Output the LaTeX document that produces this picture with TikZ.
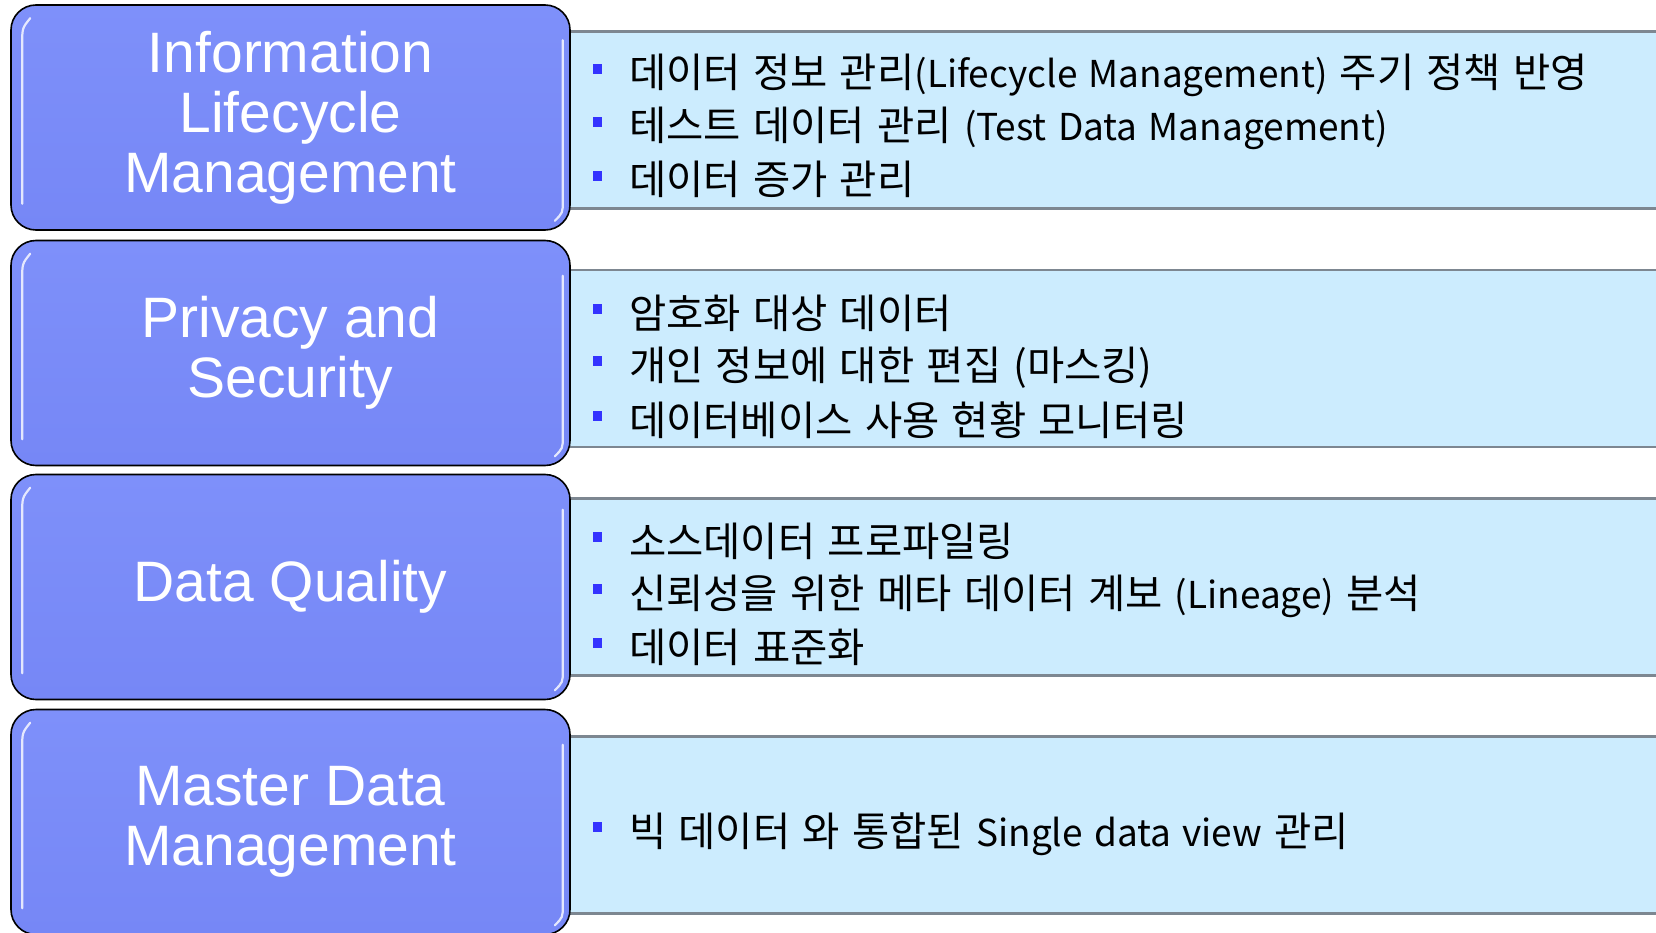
\documentclass[tikz,border=0pt]{standalone}
\usepackage{fontspec}
\setmainfont{Liberation Sans}
\newfontfamily\krfont[WordSpace=1.35]{Noto Sans CJK KR}
\usetikzlibrary{positioning}
\definecolor{boxblue}{RGB}{118,135,246}
\definecolor{boxtop}{RGB}{126,144,250}
\definecolor{panelblue}{RGB}{204,236,254}
\definecolor{rulegray}{RGB}{125,135,145}
\definecolor{bulletblue}{RGB}{51,51,255}
\newcommand{\sqbullet}{\textcolor{bulletblue}{\rule[14pt]{9pt}{10pt}}\hspace{27pt}}
\newcommand{\engtext}[1]{{\fontsize{37}{48}\selectfont #1}}
\tikzset {
    style A/.style={
        top color=boxtop,
        bottom color=boxblue,
        draw=black,
        line width=1.6pt,
        rectangle, % Set the shape as a rectangle
        rounded corners=25pt,
        minimum width=559pt,
        minimum height=225pt,
        align=center,
        text=white,
        font=\fontsize{57}{60}\selectfont,
    },
    style B/.style={
        fill=panelblue,
        rectangle, % Set the shape as a rectangle
        minimum width=1100pt,
        minimum height=177pt,
        inner sep=0pt,
    },
    style C/.style={
        anchor=base west,
        inner sep=0pt,
        font=\krfont\fontsize{40.5}{48}\selectfont,
    },
    panel rule/.style={draw=rulegray, line width=2.5pt},
    gloss/.style={draw=white, line width=2.2pt, opacity=.8, line cap=round},
}
\begin{document}
\begin{tikzpicture}[x=1pt, y=-1pt]
        \useasboundingbox (0,0) rectangle (1656,933);

        % right hand panels
        \node[style B] at (1110,120) (ilmPanel) {};
        \node[style B] at (1110,358.5) (secPanel) {};
        \node[style B] at (1110,587) (dqPanel) {};
        \node[style B] at (1110,825) (mdmPanel) {};
        \foreach \p in {ilmPanel, secPanel, dqPanel, mdmPanel} {
            \draw[panel rule] (\p.north west) -- (\p.north east);
            \draw[panel rule] (\p.south west) -- (\p.south east);
        }

        % left hand boxes
        \node[style A] at (290.5,117.5) (ilm) {Information\\Lifecycle\\Management};
        \node[style A] at (290.5,353) (sec) {Privacy and\\Security};
        \node[style A] at (290.5,587) (dq) {Data Quality};
        \node[style A] at (290.5,822) (mdm) {Master Data\\Management};
        \foreach \b in {ilm, sec, dq, mdm} {
            \draw[gloss] ([xshift=20pt,yshift=-14pt]\b.north west) .. controls ([xshift=12pt,yshift=-24pt]\b.north west) .. ([xshift=12pt,yshift=-40pt]\b.north west) -- ([xshift=12pt,yshift=27pt]\b.south west);
            \draw[gloss] ([xshift=-8pt,yshift=-36pt]\b.north east) -- ([xshift=-8pt,yshift=30pt]\b.south east) .. controls ([xshift=-8pt,yshift=18pt]\b.south east) .. ([xshift=-16pt,yshift=10pt]\b.south east);
        }

        % items
        \node[style C] at (593,88) (ilm1) {\sqbullet 데이터 정보 관리\engtext{(Lifecycle Management)} 주기 정책 반영};
        \node[style C] at (593,141) (ilm2) {\sqbullet 테스트 데이터 관리 \engtext{(Test Data Management)}};
        \node[style C] at (593,195) (ilm3) {\sqbullet 데이터 증가 관리};
        \node[style C] at (593,328) (sec1) {\sqbullet 암호화 대상 데이터};
        \node[style C] at (593,380) (sec2) {\sqbullet 개인 정보에 대한 편집 (마스킹)};
        \node[style C] at (593,435) (sec3) {\sqbullet 데이터베이스 사용 현황 모니터링};
        \node[style C] at (593,556) (dq1) {\sqbullet 소스데이터 프로파일링};
        \node[style C] at (593,608) (dq2) {\sqbullet 신뢰성을 위한 메타 데이터 계보 \engtext{(Lineage)} 분석};
        \node[style C] at (593,662) (dq3) {\sqbullet 데이터 표준화};
        \node[style C] at (593,846) (mdm1) {\sqbullet 빅 데이터 와 통합된 \engtext{Single data view} 관리};
    \end{tikzpicture}
\end{document}
